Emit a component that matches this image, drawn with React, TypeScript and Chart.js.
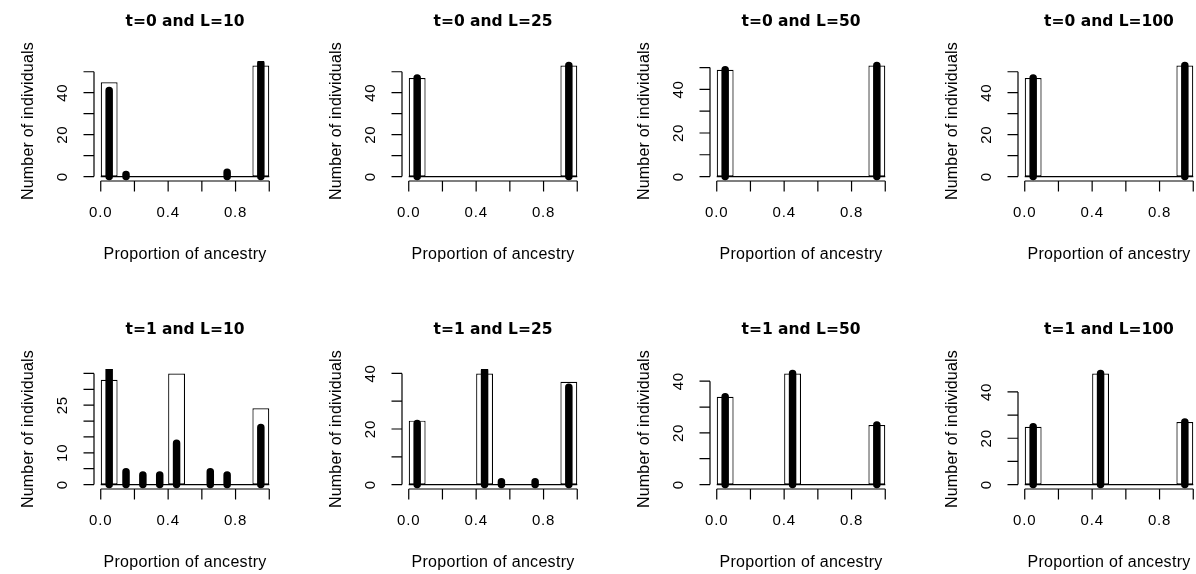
import { useEffect, useRef } from "react";
import { Chart, registerables } from "chart.js";

Chart.register(...registerables);

const FONT_FAMILY = '"Liberation Sans", Arial, Helvetica, sans-serif';
const TITLE_FAMILY = '"DejaVu Sans", "Liberation Sans", Arial, sans-serif';

// Ten histogram bins of width 0.1 on [0, 1], addressed by their midpoints
const binMids = [0.05, 0.15, 0.25, 0.35, 0.45, 0.55, 0.65, 0.75, 0.85, 0.95];
const ancestryRange = [0, 1];

// x axis ticks; labels that would collide with a neighbour stay blank
const xTickValues = [0, 0.2, 0.4, 0.6, 0.8, 1];
const xTickLabels = ["0.0", "", "0.4", "", "0.8", ""];

// y axis tick sets
const yTicks50 = [0, 10, 20, 30, 40, 50];
const yLabels50 = ["0", "", "20", "", "40", ""];
const yTicks40 = [0, 10, 20, 30, 40];
const yLabels40 = ["0", "", "20", "", "40"];
const yTicks35 = [0, 5, 10, 15, 20, 25, 30, 35];
const yLabels35 = ["0", "", "10", "", "", "25", "", ""];

const panelTitles = [
  "t=0 and L=10",
  "t=0 and L=25",
  "t=0 and L=50",
  "t=0 and L=100",
  "t=1 and L=10",
  "t=1 and L=25",
  "t=1 and L=50",
  "t=1 and L=100",
];

// Open histogram bars (counts per bin)
const openT0L10 = [45, 0, 0, 0, 0, 0, 0, 0, 0, 53];
const openT0L25 = [47, 0, 0, 0, 0, 0, 0, 0, 0, 53];
const openT0L50 = [49, 0, 0, 0, 0, 0, 0, 0, 0, 51];
const openT0L100 = [47, 0, 0, 0, 0, 0, 0, 0, 0, 53];
const openT1L10 = [33, 0, 0, 0, 35, 0, 0, 0, 0, 24];
const openT1L25 = [23, 0, 0, 0, 40, 0, 0, 0, 0, 37];
const openT1L50 = [34, 0, 0, 0, 43, 0, 0, 0, 0, 23];
const openT1L100 = [25, 0, 0, 0, 48, 0, 0, 0, 0, 27];

// Solid spikes drawn over the open bars (counts per bin)
const solidT0L10 = [41, 1, 0, 0, 0, 0, 0, 2, 0, 54];
const solidT0L25 = [47, 0, 0, 0, 0, 0, 0, 0, 0, 53];
const solidT0L50 = [49, 0, 0, 0, 0, 0, 0, 0, 0, 51];
const solidT0L100 = [47, 0, 0, 0, 0, 0, 0, 0, 0, 53];
const solidT1L10 = [44, 4, 3, 3, 13, 0, 4, 3, 0, 18];
const solidT1L25 = [22, 0, 0, 0, 41, 1, 0, 1, 0, 35];
const solidT1L50 = [34, 0, 0, 0, 43, 0, 0, 0, 0, 23];
const solidT1L100 = [25, 0, 0, 0, 48, 0, 0, 0, 0, 27];

const panelOpen = [openT0L10, openT0L25, openT0L50, openT0L100, openT1L10, openT1L25, openT1L50, openT1L100];
const panelSolid = [solidT0L10, solidT0L25, solidT0L50, solidT0L100, solidT1L10, solidT1L25, solidT1L50, solidT1L100];
const panelYTicks = [yTicks50, yTicks50, yTicks50, yTicks50, yTicks35, yTicks40, yTicks40, yTicks40];
const panelYLabels = [yLabels50, yLabels50, yLabels50, yLabels50, yLabels35, yLabels40, yLabels40, yLabels40];

const PANEL = 308;
const TICK_LEN = 10.5;
const LINE_W = 1.2;

function Panel({ index }: { index: number }) {
  const canvasRef = useRef<HTMLCanvasElement | null>(null);

  useEffect(() => {
    const canvas = canvasRef.current;
    if (!canvas) return;
    const open = panelOpen[index];
    const solid = panelSolid[index];
    const yTicks = panelYTicks[index];
    const yLabels = panelYLabels[index];
    const yMax = Math.max(...open);

    // each spike is a vertical segment from 0 to its count, separated by gaps
    const spikes: { x: number; y: number | null }[] = [];
    solid.forEach((v, i) => {
      if (v > 0) {
        spikes.push({ x: binMids[i], y: 0 }, { x: binMids[i], y: v }, { x: binMids[i], y: null });
      }
    });

    const axesPlugin = {
      id: "baseAxes",
      beforeDatasetsDraw(chart: any) {
        const { ctx, chartArea: a, scales } = chart;
        const xs = scales.x;
        const ys = scales.y;
        ctx.save();
        ctx.strokeStyle = "#000";
        ctx.lineWidth = LINE_W;
        ctx.beginPath();
        // x axis: line from first to last tick, ticks pointing down
        const xa = xs.getPixelForValue(xTickValues[0]);
        const xb = xs.getPixelForValue(xTickValues[xTickValues.length - 1]);
        ctx.moveTo(xa, a.bottom);
        ctx.lineTo(xb, a.bottom);
        xTickValues.forEach((v) => {
          const px = xs.getPixelForValue(v);
          ctx.moveTo(px, a.bottom);
          ctx.lineTo(px, a.bottom + TICK_LEN);
        });
        // y axis: line from first to last tick, ticks pointing left
        const ya = ys.getPixelForValue(yTicks[0]);
        const yb = ys.getPixelForValue(yTicks[yTicks.length - 1]);
        ctx.moveTo(a.left, ya);
        ctx.lineTo(a.left, yb);
        yTicks.forEach((v) => {
          const py = ys.getPixelForValue(v);
          ctx.moveTo(a.left, py);
          ctx.lineTo(a.left - TICK_LEN, py);
        });
        ctx.stroke();
        ctx.restore();
      },
      afterDraw(chart: any) {
        const { ctx, chartArea: a, scales } = chart;
        const xs = scales.x;
        const ys = scales.y;
        const cx = (a.left + a.right) / 2;
        const cy = (a.top + a.bottom) / 2;
        ctx.save();
        ctx.fillStyle = "#000";
        ctx.textAlign = "center";
        ctx.textBaseline = "alphabetic";

        // panel title
        ctx.font = `bold 15.5px ${TITLE_FAMILY}`;
        ctx.letterSpacing = "0px";
        ctx.fillText(panelTitles[index], cx, a.top - 35);

        // x tick labels
        ctx.font = `15px ${FONT_FAMILY}`;
        ctx.letterSpacing = "0.8px";
        xTickValues.forEach((v, i) => {
          if (xTickLabels[i]) ctx.fillText(xTickLabels[i], xs.getPixelForValue(v), a.bottom + 36);
        });

        // x axis title
        ctx.font = `16px ${FONT_FAMILY}`;
        ctx.letterSpacing = "0.3px";
        ctx.fillText("Proportion of ancestry", cx, a.bottom + 77.5);

        // y tick labels, written along the axis
        ctx.font = `15px ${FONT_FAMILY}`;
        ctx.letterSpacing = "0.8px";
        yTicks.forEach((v, i) => {
          if (!yLabels[i]) return;
          ctx.save();
          ctx.translate(a.left - 27, ys.getPixelForValue(v));
          ctx.rotate(-Math.PI / 2);
          ctx.fillText(yLabels[i], 0, 0);
          ctx.restore();
        });

        // y axis title
        ctx.font = `16px ${FONT_FAMILY}`;
        ctx.letterSpacing = "0.2px";
        ctx.save();
        ctx.translate(a.left - 61, cy);
        ctx.rotate(-Math.PI / 2);
        ctx.fillText("Number of individuals", 0, 0);
        ctx.restore();

        ctx.letterSpacing = "0px";
        ctx.restore();
      },
    };

    const chart = new Chart(canvas, {
      type: "bar",
      data: {
        datasets: [
          {
            type: "bar",
            data: binMids.map((x, i) => ({ x, y: open[i] })),
            backgroundColor: "#ffffff",
            borderColor: "#000000",
            borderWidth: LINE_W,
            borderSkipped: false,
            barPercentage: 1,
            categoryPercentage: 1,
            inflateAmount: 0,
            order: 2,
          } as any,
          {
            type: "line",
            data: [
              { x: ancestryRange[0], y: 0 },
              { x: ancestryRange[1], y: 0 },
            ],
            borderColor: "#000000",
            borderWidth: LINE_W,
            pointRadius: 0,
            pointHoverRadius: 0,
            fill: false,
            order: 1,
          } as any,
          {
            type: "line",
            data: spikes,
            borderColor: "#000000",
            borderWidth: 7.5,
            borderCapStyle: "round",
            pointRadius: 0,
            pointHoverRadius: 0,
            spanGaps: false,
            fill: false,
            clip: 0,
            order: 0,
          } as any,
        ],
      },
      options: {
        responsive: false,
        animation: false,
        events: [],
        layout: { padding: { left: 94, right: 32, top: 61, bottom: 127 } },
        plugins: {
          legend: { display: false },
          tooltip: { enabled: false },
          title: { display: false },
        },
        scales: {
          x: {
            type: "linear",
            min: ancestryRange[0] - 0.04 * (ancestryRange[1] - ancestryRange[0]),
            max: ancestryRange[1] + 0.04 * (ancestryRange[1] - ancestryRange[0]),
            offset: false,
            display: false,
            afterBuildTicks: (scale: any) => {
              scale.ticks = xTickValues.map((value) => ({ value }));
            },
          },
          y: {
            type: "linear",
            min: -0.04 * yMax,
            max: 1.04 * yMax,
            display: false,
            afterBuildTicks: (scale: any) => {
              scale.ticks = yTicks.map((value) => ({ value }));
            },
          },
        },
      } as any,
      plugins: [axesPlugin],
    });

    return () => chart.destroy();
  }, [index]);

  const col = index % 4;
  const row = Math.floor(index / 4);
  return (
    <canvas
      ref={canvasRef}
      width={PANEL}
      height={PANEL}
      style={{ position: "absolute", left: col * PANEL, top: row * PANEL, width: PANEL, height: PANEL }}
    />
  );
}

export default function App() {
  return (
    <div
      style={{
        position: "fixed",
        left: 0,
        top: 0,
        width: 1196,
        height: 574,
        overflow: "hidden",
        background: "#ffffff",
      }}
    >
      {panelTitles.map((_, i) => (
        <Panel key={i} index={i} />
      ))}
    </div>
  );
}
